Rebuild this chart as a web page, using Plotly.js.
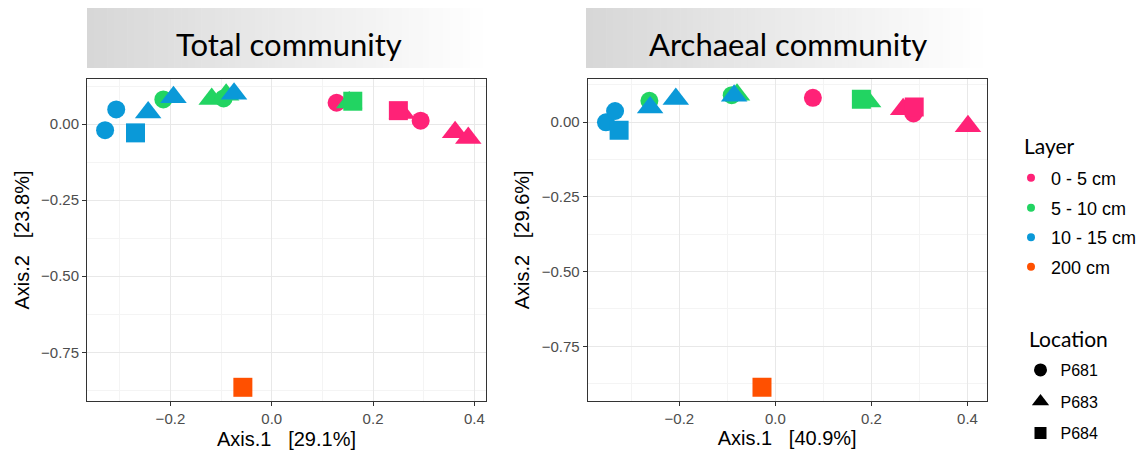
<!DOCTYPE html>
<html>
<head>
<meta charset="utf-8">
<script src="https://cdn.plot.ly/plotly-3.0.1.min.js"></script>
<style>html,body{margin:0;padding:0;background:#fff;}#chart{width:1144px;height:451px;}</style>
</head>
<body>
<div id="chart"></div>
<script>
// ---------- data ----------
const layerNames = ['0 - 5 cm', '5 - 10 cm', '10 - 15 cm', '200 cm'];
const locationNames = ['P681', 'P683', 'P684'];
const panelTitles = ['Total community', 'Archaeal community'];
const axis1Titles = ['Axis.1   [29.1%]', 'Axis.1   [40.9%]'];
const axis2Titles = ['Axis.2   [23.8%]', 'Axis.2   [29.6%]'];
const xTicks = [-0.2, 0.0, 0.2, 0.4];
const yTicks = [-0.75, -0.5, -0.25, 0.0];
const xMinorTicks = [-0.3, -0.1, 0.1, 0.3];
const yMinorTicks = [-0.875, -0.625, -0.375, -0.125, 0.125];

// Total community
const tcLayer = ['0 - 5 cm','0 - 5 cm','0 - 5 cm','0 - 5 cm','0 - 5 cm','0 - 5 cm',
                 '5 - 10 cm','5 - 10 cm','5 - 10 cm','5 - 10 cm','5 - 10 cm','5 - 10 cm',
                 '10 - 15 cm','10 - 15 cm','10 - 15 cm','10 - 15 cm','10 - 15 cm','10 - 15 cm',
                 '200 cm'];
const tcLocation = ['P683','P683','P683','P681','P681','P684',
                    'P683','P683','P683','P681','P681','P684',
                    'P683','P683','P683','P681','P681','P684',
                    'P684'];
const tcAxis1 = [0.257, 0.362, 0.388, 0.128, 0.294, 0.250,
                 -0.1185, -0.090, 0.153, -0.214, -0.095, 0.160,
                 -0.244, -0.194, -0.0744, -0.329, -0.307, -0.269,
                 -0.057];
const tcAxis2 = [0.036, -0.027, -0.046, 0.070, 0.011, 0.044,
                 0.082, 0.096, 0.071, 0.081, 0.084, 0.075,
                 0.038, 0.088, 0.0995, -0.020, 0.048, -0.029,
                 -0.865];

// Archaeal community
const acLayer = ['0 - 5 cm','0 - 5 cm','0 - 5 cm','0 - 5 cm','0 - 5 cm',
                 '5 - 10 cm','5 - 10 cm','5 - 10 cm','5 - 10 cm','5 - 10 cm',
                 '10 - 15 cm','10 - 15 cm','10 - 15 cm','10 - 15 cm','10 - 15 cm','10 - 15 cm',
                 '200 cm'];
const acLocation = ['P683','P683','P681','P681','P684',
                    'P683','P683','P681','P681','P684',
                    'P683','P683','P683','P681','P681','P684',
                    'P684'];
const acAxis1 = [0.266, 0.401, 0.078, 0.2875, 0.289,
                 -0.080, 0.193, -0.2625, -0.091, 0.179,
                 -0.261, -0.2075, -0.086, -0.353, -0.334, -0.3256,
                 -0.028];
const acAxis2 = [0.043, -0.014, 0.081, 0.029, 0.050,
                 0.091, 0.069, 0.071, 0.090, 0.076,
                 0.049, 0.077, 0.088, -0.001, 0.037, -0.027,
                 -0.887];

// ---------- styles ----------
const layerColors = {'0 - 5 cm': '#FF2277', '5 - 10 cm': '#22D462', '10 - 15 cm': '#0A99D8', '200 cm': '#FF5000'};
const locSymbol = {P681: 'circle', P683: 'triangle-up', P684: 'square'};
const locSize = {P681: 18, P683: 23, P684: 19};
const locLegendSize = {P681: 13, P683: 15, P684: 12};

const W = 1144, H = 451;
const fx = v => v / W;
const fy = v => 1 - v / H;

const panels = [
  {layer: tcLayer, loc: tcLocation, x: tcAxis1, y: tcAxis2, xa: 'x', ya: 'y'},
  {layer: acLayer, loc: acLocation, x: acAxis1, y: acAxis2, xa: 'x2', ya: 'y2'}
];

const traces = [];
panels.forEach(p => {
  layerNames.forEach(ln => {
    const idx = p.layer.map((v, i) => v === ln ? i : -1).filter(i => i >= 0);
    if (!idx.length) return;
    traces.push({
      type: 'scatter', mode: 'markers', xaxis: p.xa, yaxis: p.ya,
      x: idx.map(i => p.x[i]), y: idx.map(i => p.y[i]),
      showlegend: false, hoverinfo: 'x+y',
      marker: {
        color: layerColors[ln], opacity: 1,
        symbol: idx.map(i => locSymbol[p.loc[i]]),
        size: idx.map(i => locSize[p.loc[i]]),
        line: {width: 0}
      }
    });
  });
});

// legend entries (one small legend per entry)
const layerLegendY = [178, 208, 237.5, 267];
const locLegendY = [370, 401.5, 433];
const layerLegendFont = {family: 'Liberation Sans, Arial, sans-serif', size: 18, color: '#000'};
const locLegendFont = {family: 'Liberation Sans, Arial, sans-serif', size: 16, color: '#000'};
const layoutLegends = {};
layerNames.forEach((ln, i) => {
  const key = i === 0 ? 'legend' : 'legend' + (i + 1);
  traces.push({type: 'scatter', mode: 'markers', x: [null], y: [null], name: ln,
    legend: key, showlegend: true,
    marker: {color: layerColors[ln], size: 8, symbol: 'circle', opacity: 1}});
  layoutLegends[key] = {x: fx(1011), xanchor: 'left', y: fy(layerLegendY[i]), yanchor: 'middle',
    bgcolor: 'rgba(0,0,0,0)', borderwidth: 0, font: layerLegendFont, itemclick: false, itemdoubleclick: false};
});
locationNames.forEach((ln, i) => {
  const key = 'legend' + (i + 5);
  traces.push({type: 'scatter', mode: 'markers', x: [null], y: [null], name: ln,
    legend: key, showlegend: true,
    marker: {color: '#000', size: locLegendSize[ln], symbol: locSymbol[ln], opacity: 1}});
  layoutLegends[key] = {x: fx(1020.5), xanchor: 'left', y: fy(locLegendY[i]), yanchor: 'middle',
    bgcolor: 'rgba(0,0,0,0)', borderwidth: 0, font: locLegendFont, itemclick: false, itemdoubleclick: false};
});

// ---------- layout ----------
const tickFont = {family: 'Liberation Sans, Arial, sans-serif', size: 15, color: '#4d4d4d'};
const titleFont = {family: 'Liberation Sans, Arial, sans-serif', size: 20, color: '#000'};
function xAxis(dom, rng, anchor, title) {
  return {domain: dom, range: rng, anchor: anchor, tickvals: xTicks, tickformat: '.1f',
    showline: true, mirror: true, linecolor: '#333', linewidth: 1,
    ticks: 'outside', ticklen: 4, tickwidth: 1, tickcolor: '#333', tickfont: tickFont,
    showgrid: true, gridcolor: '#e8e8e8', gridwidth: 1, zeroline: false,
    minor: {tickvals: xMinorTicks, showgrid: true, gridcolor: '#f4f4f4', gridwidth: 1, ticks: ''},
    title: {text: title, font: titleFont, standoff: 5}, automargin: false, fixedrange: true};
}
function yAxis(dom, rng, anchor, title) {
  return {domain: dom, range: rng, anchor: anchor, tickvals: yTicks, tickformat: '.2f',
    showline: true, mirror: true, linecolor: '#333', linewidth: 1,
    ticks: 'outside', ticklen: 4, tickwidth: 1, tickcolor: '#333', tickfont: tickFont,
    showgrid: true, gridcolor: '#e8e8e8', gridwidth: 1, zeroline: false,
    minor: {tickvals: yMinorTicks, showgrid: true, gridcolor: '#f4f4f4', gridwidth: 1, ticks: ''},
    title: {text: title, font: titleFont, standoff: 6}, automargin: false, fixedrange: true};
}

// strip gradients
const shapes = [];
const strips = [[87, 490], [586, 990]];
const N = 60;
strips.forEach(s => {
  const w = (s[1] - s[0]) / N;
  for (let i = 0; i < N; i++) {
    const t = i / (N - 1);
    const c = Math.round(215 + (255 - 215) * t);
    shapes.push({type: 'rect', xref: 'paper', yref: 'paper', layer: 'below',
      x0: fx(s[0] + i * w), x1: fx(s[0] + (i + 1) * w + 0.6), y0: fy(68), y1: fy(8),
      fillcolor: `rgb(${c},${c},${c})`, line: {width: 0}});
  }
});

const stripFont = {family: 'Lato, sans-serif', size: 31, color: '#000'};
const annotations = [
  {text: panelTitles[0], xref: 'paper', yref: 'paper', x: fx(288.5), y: fy(44), xanchor: 'center', yanchor: 'middle', showarrow: false, font: stripFont},
  {text: panelTitles[1], xref: 'paper', yref: 'paper', x: fx(788), y: fy(44), xanchor: 'center', yanchor: 'middle', showarrow: false, font: stripFont},
  {text: 'Layer', xref: 'paper', yref: 'paper', x: fx(1022), y: fy(145), xanchor: 'left', yanchor: 'middle', showarrow: false, font: {family: 'Lato, sans-serif', size: 21, color: '#000'}},
  {text: 'Location', xref: 'paper', yref: 'paper', x: fx(1027), y: fy(338), xanchor: 'left', yanchor: 'middle', showarrow: false, font: {family: 'Lato, sans-serif', size: 21, color: '#000'}}
];

const layout = Object.assign({
  width: W, height: H, margin: {l: 0, r: 0, t: 0, b: 0},
  paper_bgcolor: '#fff', plot_bgcolor: '#fff', showlegend: true,
  xaxis: xAxis([fx(87), fx(486)], [-0.3647, 0.423], 'y', axis1Titles[0]),
  yaxis: yAxis([fy(401), fy(79)], [-0.910, 0.148], 'x', axis2Titles[0]),
  xaxis2: xAxis([fx(587.7), fx(986.7)], [-0.391, 0.440], 'y2', axis1Titles[1]),
  yaxis2: yAxis([fy(400.7), fy(79)], [-0.932, 0.144], 'x2', axis2Titles[1]),
  shapes: shapes, annotations: annotations
}, layoutLegends);

Plotly.newPlot('chart', traces, layout, {displayModeBar: false, staticPlot: true});
</script>
</body>
</html>
